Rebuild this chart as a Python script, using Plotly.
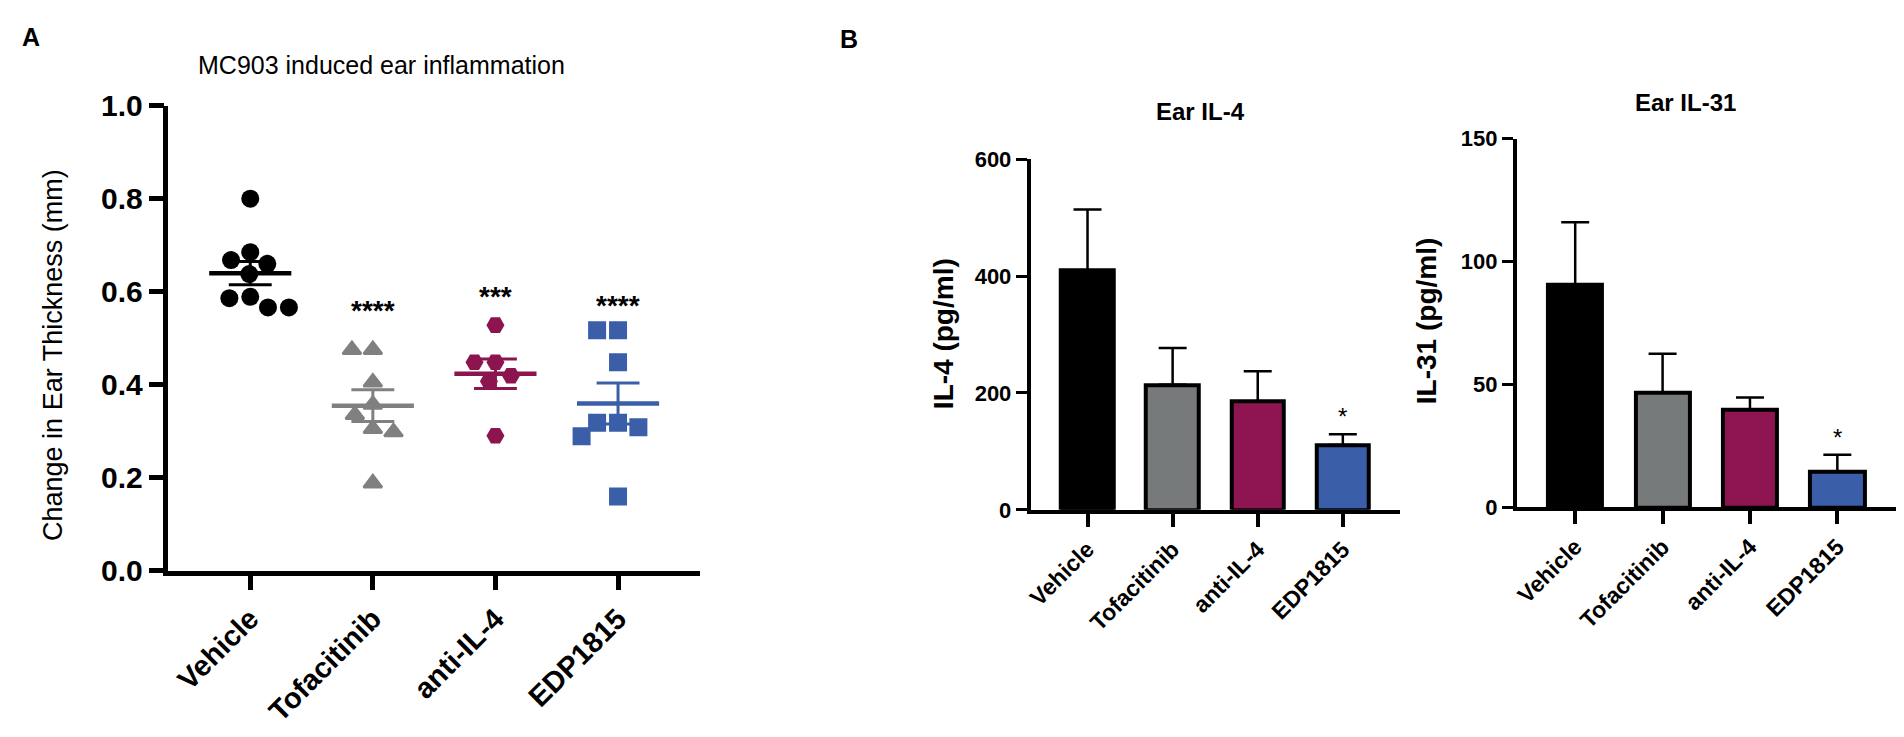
import plotly.graph_objects as go

# ---------------- data ----------------
groups = ["Vehicle", "Tofacitinib", "anti-IL-4", "EDP1815"]

vehicle_mm = [0.80, 0.685, 0.668, 0.66, 0.638, 0.589, 0.586, 0.566, 0.566]
tofacitinib_mm = [0.475, 0.475, 0.405, 0.357, 0.335, 0.305, 0.298, 0.188]
anti_il4_mm = [0.528, 0.448, 0.448, 0.419, 0.407, 0.29]
edp1815_mm = [0.517, 0.517, 0.448, 0.318, 0.318, 0.308, 0.289, 0.159]
significance_a = ["", "****", "***", "****"]

il4_mean = [410, 214, 186, 111]
il4_sem = [104, 63, 51, 18.5]
il31_mean = [90.5, 46.7, 39.8, 14.5]
il31_sem = [25.5, 15.8, 4.9, 6.9]
significance_b = ["", "", "", "*"]

a_ticks = [0.0, 0.2, 0.4, 0.6, 0.8, 1.0]
il4_ticks = [0, 200, 400, 600]
il31_ticks = [0, 50, 100, 150]

# ---------------- styling ----------------
W, H = 1904, 737
FONT = "Liberation Sans, Arial, Helvetica, sans-serif"
marker_colors = ["#000000", "#808080", "#8c1550", "#3a5ea8"]
bar_colors = ["#000000", "#777a7a", "#8e1551", "#3b5ea8"]
symbols = ["circle", "triangle-up", "hexagon2", "square"]
sizes = [18, 16, 18, 18]


def px(x):
    return x / W


def py(y):
    return 1 - y / H


def swarm(values, x_scale, y_scale, d):
    """simple beeswarm: offsets (in category units) so markers don't overlap"""
    placed = []
    offsets = [0.0] * len(values)
    order = sorted(range(len(values)), key=lambda i: -values[i])
    for i in order:
        y = values[i] * y_scale
        forb = []
        for (qx, qy) in placed:
            dy = abs(qy - y)
            if dy < d:
                dx = (d * d - dy * dy) ** 0.5
                forb.append((qx - dx, qx + dx))
        cands = [0.0] + [a for a, b in forb] + [b for a, b in forb]
        cands.sort(key=lambda c: (abs(c), c))
        x = 0.0
        for c in cands:
            if all(not (a + 1e-6 < c < b - 1e-6) for a, b in forb):
                x = c
                break
        placed.append((x, y))
        offsets[i] = x / x_scale
    return offsets


fig = go.Figure()

# ---------------- panel A ----------------
a_dom_x = [px(163), px(696)]
a_dom_y = [py(580.5), py(94)]
xr = [-0.667, 3.667]
a_xscale = (696 - 163) / (xr[1] - xr[0])
a_yscale = 580.5 - 94

series = [vehicle_mm, tofacitinib_mm, anti_il4_mm, edp1815_mm]
for gi, vals in enumerate(series):
    offs = swarm(vals, a_xscale, a_yscale, 21)
    fig.add_trace(go.Scatter(
        x=[gi + o for o in offs], y=vals, mode="markers",
        marker=dict(symbol=symbols[gi], size=sizes[gi], color=marker_colors[gi],
                    line=dict(width=2.5 if symbols[gi] == "triangle-up" else 0,
                              color=marker_colors[gi])),
        xaxis="x", yaxis="y", showlegend=False, hoverinfo="skip"))
for gi, vals in enumerate(series):
    n = len(vals)
    m = sum(vals) / n
    sd = (sum((v - m) ** 2 for v in vals) / (n - 1)) ** 0.5
    se = sd / n ** 0.5
    c = marker_colors[gi]
    fig.add_trace(go.Scatter(x=[gi - 0.335, gi + 0.335], y=[m, m], mode="lines",
                             line=dict(color=c, width=4.5), xaxis="x", yaxis="y",
                             showlegend=False, hoverinfo="skip"))
    for yy in (m - se, m + se):
        fig.add_trace(go.Scatter(x=[gi - 0.175, gi + 0.175], y=[yy, yy], mode="lines",
                                 line=dict(color=c, width=3), xaxis="x", yaxis="y",
                                 showlegend=False, hoverinfo="skip"))
    fig.add_trace(go.Scatter(x=[gi, gi], y=[m - se, m + se], mode="lines",
                             line=dict(color=c, width=3), xaxis="x", yaxis="y",
                             showlegend=False, hoverinfo="skip"))

# ---------------- panel B bars ----------------
for data_m, data_s, xa, ya in ((il4_mean, il4_sem, "x2", "y2"),
                               (il31_mean, il31_sem, "x3", "y3")):
    fig.add_trace(go.Bar(
        x=list(range(4)), y=data_m, width=0.62,
        marker=dict(color=bar_colors, line=dict(color="black", width=4)),
        error_y=dict(type="data", array=data_s, arrayminus=[0] * 4, symmetric=False,
                     color="black", thickness=2.5, width=14),
        xaxis=xa, yaxis=ya, showlegend=False, hoverinfo="skip"))

axis_common = dict(showgrid=False, zeroline=False, showline=True, linecolor="black",
                   ticks="outside", tickcolor="black", mirror=False, fixedrange=True)

layout = dict(
    width=W, height=H, margin=dict(l=0, r=0, t=0, b=0),
    paper_bgcolor="white", plot_bgcolor="white", bargap=0,
    font=dict(family=FONT, color="black"),
    xaxis=dict(domain=a_dom_x, range=xr, tickvals=list(range(4)), ticktext=groups,
               tickangle=-45, linewidth=4.5, tickwidth=4.5, ticklen=15,
               tickfont=dict(size=29, weight=700, family=FONT), anchor="y",
               **axis_common),
    yaxis=dict(domain=a_dom_y, range=[0, 1], tickvals=a_ticks,
               ticktext=[f"{t:.1f}" for t in a_ticks], linewidth=4.5, tickwidth=4.5,
               ticklen=15, tickfont=dict(size=30, weight=700, family=FONT), anchor="x",
               **axis_common),
    xaxis2=dict(domain=[px(1028), px(1398)], range=xr, tickvals=list(range(4)),
                ticktext=groups, tickangle=-45, linewidth=4, tickwidth=3.5, ticklen=13,
                tickfont=dict(size=23, weight=700, family=FONT), anchor="y2",
                **axis_common),
    yaxis2=dict(domain=[py(517), py(150)], range=[0, 600], tickvals=il4_ticks,
                linewidth=4, tickwidth=3, ticklen=11,
                tickfont=dict(size=22, weight=700, family=FONT), anchor="x2",
                **axis_common),
    xaxis3=dict(domain=[px(1515.7), px(1895.6)], range=xr, tickvals=list(range(4)),
                ticktext=groups, tickangle=-45, linewidth=4, tickwidth=3.5, ticklen=13,
                tickfont=dict(size=23, weight=700, family=FONT), anchor="y3",
                **axis_common),
    yaxis3=dict(domain=[py(514.3), py(128.5)], range=[0, 150], tickvals=il31_ticks,
                linewidth=4, tickwidth=3, ticklen=11,
                tickfont=dict(size=22, weight=700, family=FONT), anchor="x3",
                **axis_common),
)
fig.update_layout(**layout)

ann = []


def text(x, y, s, size, bold=False, angle=0, xanchor="center"):
    ann.append(dict(x=px(x), y=py(y), xref="paper", yref="paper", text=s,
                    showarrow=False, textangle=angle, xanchor=xanchor, yanchor="middle",
                    font=dict(size=size, family=FONT, color="black",
                              weight=700 if bold else 400)))


text(25, 22, "A", 25, bold=True)
text(846, 24, "B", 25, bold=True)
text(377, 51, "MC903 induced ear inflammation", 25)
text(47, 355, "Change in Ear Thickness (mm)", 27, angle=-90)
text(1198, 100, "Ear IL-4", 24, bold=True)
text(1685, 91, "Ear IL-31", 24, bold=True)
text(940, 333, "IL-4 (pg/ml)", 28, bold=True, angle=-90)
text(1425, 320, "IL-31 (pg/ml)", 28, bold=True, angle=-90)

# significance marks (data coordinates)
sig_a_y = [0, 0.571, 0.601, 0.581]
for gi, s in enumerate(significance_a):
    if s:
        ann.append(dict(x=gi, y=sig_a_y[gi], xref="x", yref="y", text=s, showarrow=False,
                        yanchor="middle", yshift=-5,
                        font=dict(size=28, family=FONT, color="black", weight=700)))
for gi, s in enumerate(significance_b):
    if s:
        ann.append(dict(x=gi, y=il4_mean[gi] + il4_sem[gi], xref="x2", yref="y2", text=s,
                        showarrow=False, yanchor="bottom", yshift=2,
                        font=dict(size=24, family=FONT, color="black")))
        ann.append(dict(x=gi, y=il31_mean[gi] + il31_sem[gi], xref="x3", yref="y3", text=s,
                        showarrow=False, yanchor="bottom", yshift=2,
                        font=dict(size=24, family=FONT, color="black")))

fig.update_layout(annotations=ann)

fig.write_html("out.html", config={"displayModeBar": False},
               post_script="document.body.style.margin='0';")
